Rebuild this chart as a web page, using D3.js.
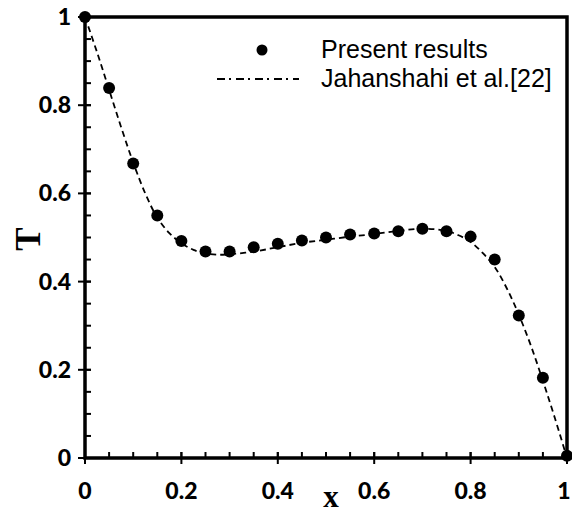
<!DOCTYPE html>
<html><head><meta charset="utf-8">
<script src="https://cdn.jsdelivr.net/npm/d3@7"></script>
<style>body{margin:0;background:#fff}svg{display:block}</style>
</head><body>
<svg id="c" width="572" height="513"></svg>
<script>
// Present results (dots)
const presentX = [0,0.05,0.1,0.15,0.2,0.25,0.3,0.35,0.4,0.45,0.5,0.55,0.6,0.65,0.7,0.75,0.8,0.85,0.9,0.95,1.0];
const presentT = [1.0,0.839,0.668,0.55,0.492,0.468,0.468,0.478,0.486,0.493,0.5,0.507,0.509,0.514,0.52,0.514,0.502,0.45,0.323,0.182,0.005];
// Jahanshahi et al.[22] (dashed curve)
const refX = [0,0.025,0.05,0.075,0.1,0.125,0.15,0.175,0.2,0.225,0.25,0.275,0.3,0.35,0.4,0.45,0.5,0.55,0.6,0.65,0.7,0.75,0.775,0.8,0.825,0.85,0.875,0.9,0.925,0.95,0.975,1.0];
const refT = [1.0,0.92,0.835,0.75,0.67,0.6,0.545,0.51,0.487,0.472,0.464,0.461,0.462,0.468,0.478,0.488,0.495,0.502,0.508,0.515,0.52,0.515,0.505,0.49,0.465,0.433,0.385,0.325,0.255,0.175,0.09,0.0];
const xTicks = [0,0.2,0.4,0.6,0.8,1];
const xTickLabels = ["0","0.2","0.4","0.6","0.8","1"];
const yTicks = [0,0.2,0.4,0.6,0.8,1];
const yTickLabels = ["0","0.2","0.4","0.6","0.8","1"];
const minorTicks = d3.range(0,1.0001,0.05);
const legendLabels = ["Present results","Jahanshahi et al.[22]"];

const svg = d3.select("#c");
const L=85,R=567,T=17,B=458;
const x = d3.scaleLinear().domain([0,1]).range([L,R]);
const y = d3.scaleLinear().domain([0,1]).range([B,T]);

// curve
const line = d3.line().x(d=>x(d[0])).y(d=>y(d[1])).curve(d3.curveCatmullRom);
svg.append("path").datum(refX.map((v,i)=>[v,refT[i]]))
  .attr("d",line).attr("fill","none").attr("stroke","#000")
  .attr("stroke-width",1.8).attr("stroke-dasharray","6,4");

// dots
svg.append("g").selectAll("circle").data(presentX.map((v,i)=>[v,presentT[i]]))
  .join("circle").attr("cx",d=>x(d[0])).attr("cy",d=>y(d[1])).attr("r",6).attr("fill","#000");

// minor ticks (inside)
const g = svg.append("g").attr("stroke","#000").attr("stroke-width",2);
minorTicks.forEach(v=>{
  g.append("line").attr("x1",x(v)).attr("x2",x(v)).attr("y1",B).attr("y2",B-6);
  g.append("line").attr("y1",y(v)).attr("y2",y(v)).attr("x1",L).attr("x2",L+6);
});
// major ticks (cross)
xTicks.forEach(v=>g.append("line").attr("x1",x(v)).attr("x2",x(v)).attr("y1",B-6).attr("y2",B+6));
yTicks.forEach(v=>g.append("line").attr("y1",y(v)).attr("y2",y(v)).attr("x1",L-7).attr("x2",L+6));

// frame
svg.append("rect").attr("x",L).attr("y",T).attr("width",R-L).attr("height",B-T)
  .attr("fill","none").attr("stroke","#000").attr("stroke-width",3.5);

// tick labels
const tf = "Lato, 'Open Sans', sans-serif";
svg.append("g").selectAll("text").data(xTicks).join("text")
  .attr("x",d=>Math.min(x(d),564)).attr("y",B+41).attr("text-anchor","middle")
  .attr("font-family",tf).attr("font-weight","900").attr("font-size",23)
  .text((d,i)=>xTickLabels[i]);
svg.append("g").selectAll("text").data(yTicks).join("text")
  .attr("x",L-14).attr("y",d=>y(d)+8).attr("text-anchor","end")
  .attr("font-family",tf).attr("font-weight","900").attr("font-size",23)
  .text((d,i)=>yTickLabels[i]);

// axis titles
svg.append("text").attr("x",331).attr("y",507).attr("text-anchor","middle")
  .attr("font-family","'Liberation Serif', serif").attr("font-weight","bold").attr("font-size",31).text("x");
svg.append("text").attr("transform","translate(40,239) rotate(-90)").attr("text-anchor","middle")
  .attr("font-family","'Liberation Serif', serif").attr("font-weight","bold").attr("font-size",35).text("T");

// legend
svg.append("circle").attr("cx",262).attr("cy",50).attr("r",5.5).attr("fill","#000");
svg.append("line").attr("x1",217).attr("x2",299).attr("y1",79).attr("y2",79)
  .attr("stroke","#000").attr("stroke-width",1.8).attr("stroke-dasharray","8,4,2,5");
svg.append("text").attr("x",321).attr("y",58).attr("font-family","'Liberation Sans', Arial, sans-serif")
  .attr("font-size",25).text(legendLabels[0]);
svg.append("text").attr("x",321).attr("y",87).attr("font-family","'Liberation Sans', Arial, sans-serif")
  .attr("font-size",25).text(legendLabels[1]);
</script>
</body></html>
